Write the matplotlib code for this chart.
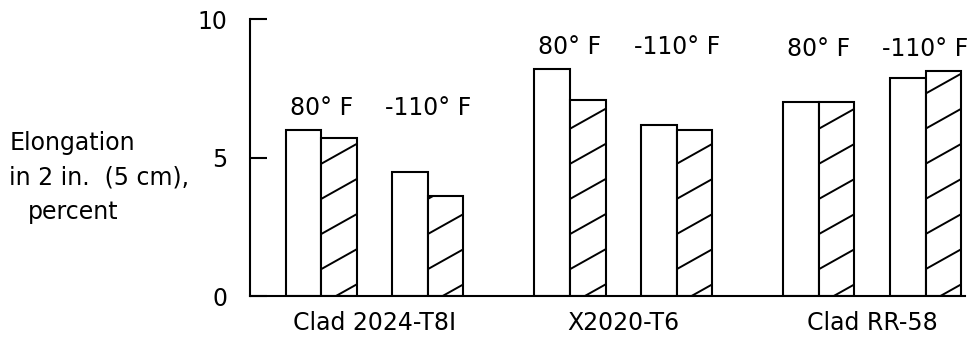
import numpy as np
import matplotlib
matplotlib.use("Agg")
import matplotlib.pyplot as plt

# данные
alloys = ['Clad 2024-T8I', 'X2020-T6', 'Clad RR-58']
temps = ['80° F', '-110° F']
open_vals = [[6.0, 4.5], [8.2, 6.2], [7.0, 7.9]]      # светлые столбцы
hatched_vals = [[5.7, 3.6], [7.1, 6.0], [7.0, 8.15]]  # заштрихованные столбцы
yticks = [0, 5, 10]

plt.rcParams['font.family'] = ['DejaVu Sans']
FS = 17


def hatch_bar(ax, bar, step=1.27, rise=0.72, phase=-0.3):
    """
    Рисует косую штриховку внутри столбца
    """
    x0 = bar.get_x()
    w = bar.get_width()
    h = bar.get_height()
    b = phase
    while b < h:
        line, = ax.plot([x0, x0 + w], [b, b + rise], color='black', lw=1.4,
                        solid_capstyle='butt')
        line.set_clip_path(bar)
        b += step


fig = plt.figure(figsize=(9.71, 3.42), dpi=100)
ax = fig.add_axes([0.2575, 0.1345, 0.9935 - 0.2575, 0.943 - 0.1345])

group_x = np.arange(len(alloys)) * 7.0
w = 1.0

for g, gx in enumerate(group_x):
    for t in range(len(temps)):
        pc = gx + (t - 0.5) * 3.0
        ax.bar(pc - w / 2, open_vals[g][t], width=w, facecolor='white',
               edgecolor='black', lw=1.5)
        hb = ax.bar(pc + w / 2, hatched_vals[g][t], width=w, facecolor='white',
                    edgecolor='black', lw=1.5)
        hatch_bar(ax, hb.patches[0])
    # подписи температур над парами столбцов
    top = max(max(open_vals[g]), max(hatched_vals[g]))
    for t, lab in enumerate(temps):
        pc = gx + (t - 0.5) * 3.0
        ax.text(pc, top + 0.8, lab, ha='center', va='center', fontsize=FS)

ax.set_xlim(-3.5, 16.6)
ax.set_ylim(0, 10)
ax.set_yticks(yticks)
ax.set_xticks(group_x)
ax.set_xticklabels(alloys, fontsize=FS)
ax.tick_params(axis='x', length=0, pad=11)
ax.tick_params(axis='y', direction='in', length=12, width=1.5, pad=16,
               labelsize=FS)
for s in ['top', 'right']:
    ax.spines[s].set_visible(False)
for s in ['left', 'bottom']:
    ax.spines[s].set_linewidth(1.5)

# подпись оси Y в три строки
fig.text(72 / 971, 1 - 143 / 342, 'Elongation', ha='center', va='center', fontsize=FS)
fig.text(99 / 971, 1 - 178 / 342, 'in 2 in.  (5 cm),', ha='center', va='center', fontsize=FS)
fig.text(73 / 971, 1 - 212 / 342, 'percent', ha='center', va='center', fontsize=FS)

fig.savefig('out.png', dpi=100)
